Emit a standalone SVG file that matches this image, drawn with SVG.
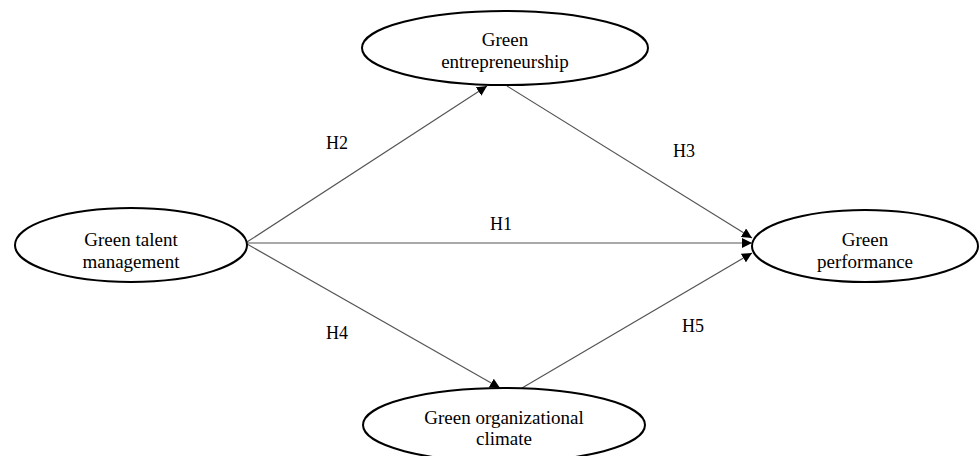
<svg xmlns="http://www.w3.org/2000/svg" width="980" height="456" viewBox="0 0 980 456">
<defs>
<marker id="arr" viewBox="0 0 10 10" refX="10" refY="5" markerWidth="10" markerHeight="10" markerUnits="userSpaceOnUse" orient="auto">
<path d="M0,0 L10,5 L0,10 z" fill="#000"/>
</marker>
<style>
.node ellipse{fill:#fff;stroke:#000;stroke-width:2}
.node text,.lbl{font-family:"Liberation Serif","Times New Roman",serif;font-size:19px;fill:#000;text-anchor:middle}
.lbl{font-size:18px}
#edges line{stroke:#555;stroke-width:1.2;marker-end:url(#arr)}
</style>
</defs>
<rect width="980" height="456" fill="#fff"/>
<g id="edges">
<line x1="247" y1="242" x2="487" y2="86"/>
<line x1="507" y1="86" x2="752" y2="238"/>
<line x1="247" y1="243" x2="752" y2="243"/>
<line x1="247" y1="244" x2="500" y2="388"/>
<line x1="522" y1="388" x2="752" y2="253"/>
</g>
<g id="n-gtm" class="node"><ellipse cx="131" cy="245" rx="116" ry="37"/><text x="131" y="246">Green talent</text><text x="131" y="268">management</text></g>
<g id="n-ge" class="node"><ellipse cx="505" cy="48" rx="143" ry="37"/><text x="505" y="46">Green</text><text x="505" y="68">entrepreneurship</text></g>
<g id="n-gp" class="node"><ellipse cx="865" cy="246" rx="113" ry="36"/><text x="865" y="246">Green</text><text x="865" y="268">performance</text></g>
<g id="n-goc" class="node"><ellipse cx="504" cy="425" rx="141" ry="37"/><text x="504" y="424">Green organizational</text><text x="504" y="445">climate</text></g>
<g id="labels">
<text class="lbl" x="337" y="149">H2</text>
<text class="lbl" x="684" y="157">H3</text>
<text class="lbl" x="501" y="230">H1</text>
<text class="lbl" x="337" y="339">H4</text>
<text class="lbl" x="693" y="332">H5</text>
</g>
</svg>
